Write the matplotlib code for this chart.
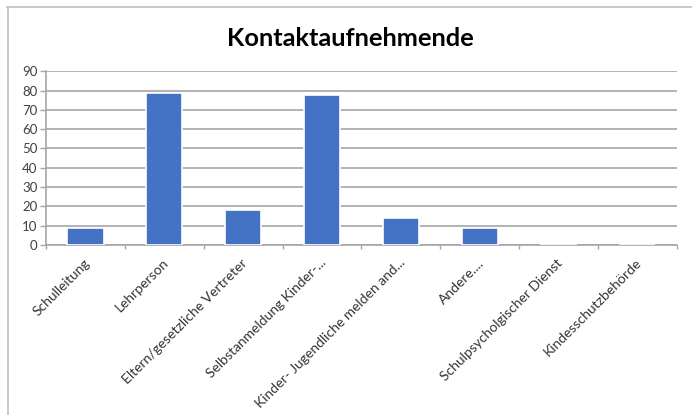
import matplotlib.pyplot as plt
from matplotlib.lines import Line2D

categories = ["Schulleitung", "Lehrperson", "Eltern/gesetzliche Vertreter",
              "Selbstanmeldung Kinder-...", "Kinder- Jugendliche melden and...",
              "Andere....", "Schulpsycholgischer Dienst", "Kindesschutzbehörde"]
values = [9, 79, 18, 78, 14, 9, 0, 0]
yticks = [0, 10, 20, 30, 40, 50, 60, 70, 80, 90]

plt.rcParams['font.family'] = ['Lato', 'DejaVu Sans']

fig = plt.figure(figsize=(6.92, 4.15), dpi=100)
ax = fig.add_axes([0.0665, 0.410, 0.9115, 0.418])

x = range(len(categories))
ax.bar(x, values, width=0.46, color='#4472c4', edgecolor='white', linewidth=1.2, zorder=3)

ax.set_xlim(-0.5, len(categories) - 0.5)
ax.set_ylim(0, 90)
ax.set_yticks(yticks)
ax.set_yticklabels([str(v) for v in yticks], fontsize=9.5, color='#404040')
ax.yaxis.grid(True, color='#a6a6a6', linewidth=1.2, zorder=0)

# category ticks sit between bars
ax.set_xticks([i - 0.5 for i in range(len(categories) + 1)])
ax.set_xticklabels([])
ax.tick_params(axis='x', length=3, color='#a6a6a6', width=1)
ax.tick_params(axis='y', length=4.5, color='#a6a6a6', width=1, pad=1.5)
for i, c in enumerate(categories):
    ax.text(i + 0.03, -8.3, c, rotation=45, ha='right', va='center', rotation_mode='anchor',
            fontsize=10, color='#333333', clip_on=False)

for s in ['top', 'right']:
    ax.spines[s].set_visible(False)
ax.spines['left'].set_color('#a6a6a6')
ax.spines['bottom'].set_color('#a6a6a6')
ax.spines['left'].set_linewidth(1.2)
ax.spines['bottom'].set_linewidth(1.2)

fig.text(0.506, 0.908, "Kontaktaufnehmende", ha='center', va='center',
         fontsize=18.3, fontweight='bold', color='black')

# chart border (top and left visible)
fig.add_artist(Line2D([0.010, 1.0], [0.983, 0.983], color='#bfbfbf', linewidth=1.2))
fig.add_artist(Line2D([0.011, 0.011], [0.0, 0.983], color='#bfbfbf', linewidth=1.2))

fig.savefig('out.png', dpi=100)
